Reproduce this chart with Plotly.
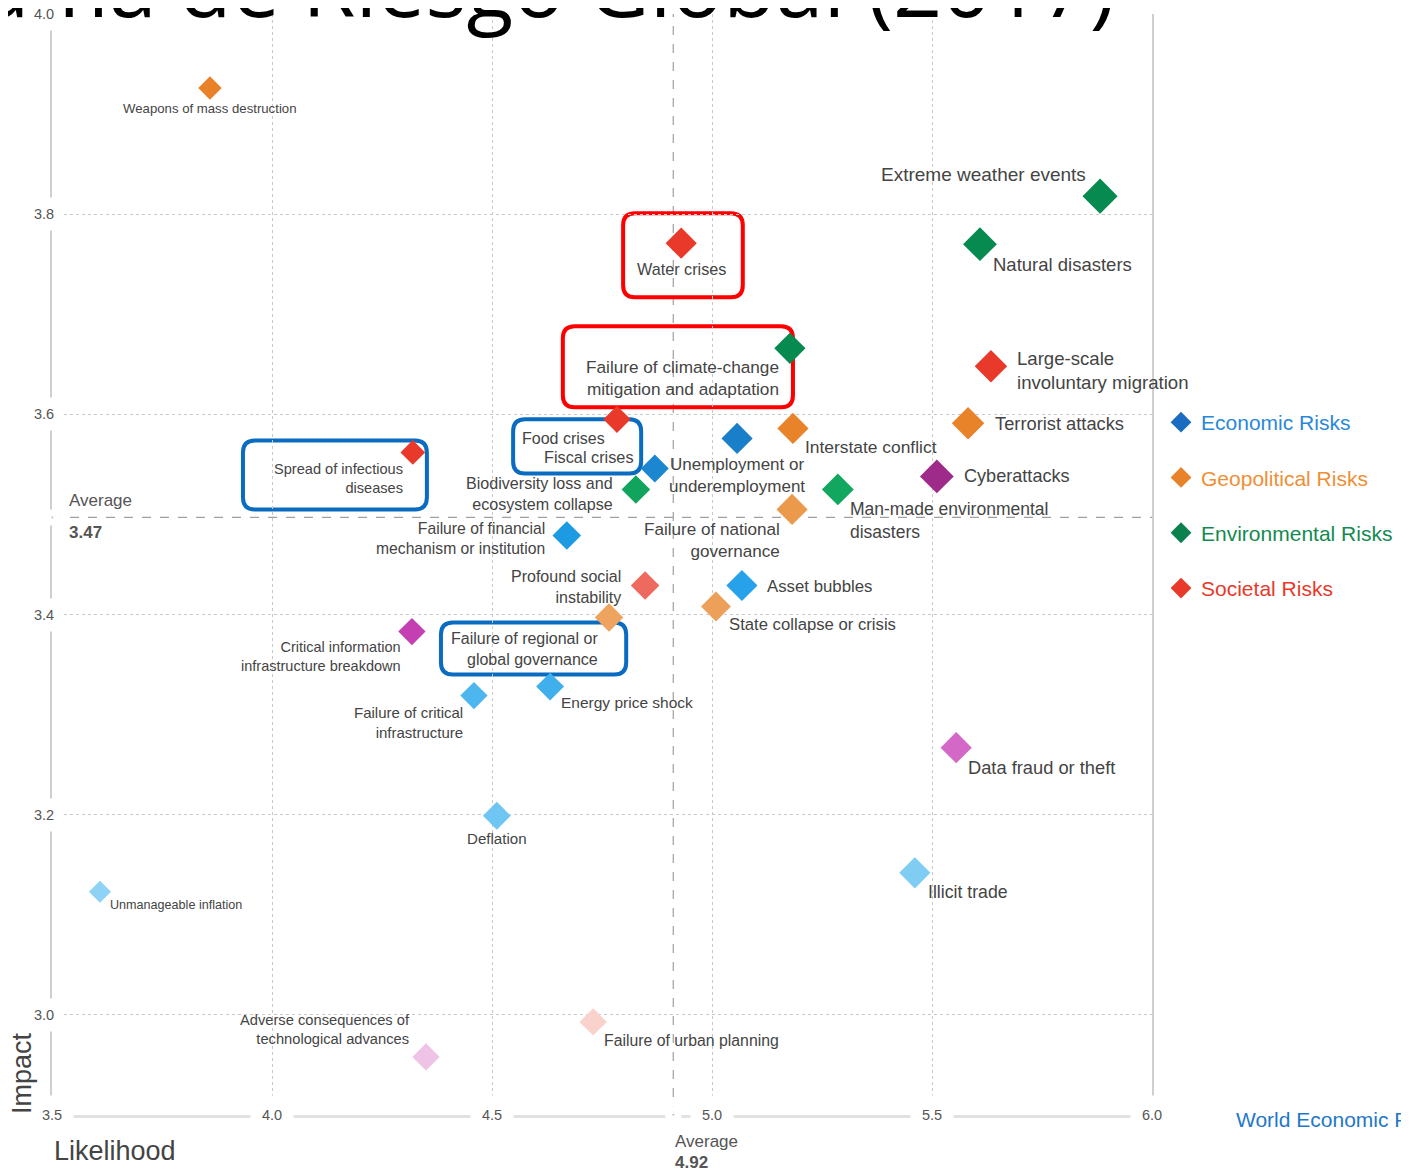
import plotly.graph_objects as go

risks = [
    "Weapons of mass destruction",
    "Extreme weather events",
    "Natural disasters",
    "Water crises",
    "Failure of climate-change<br>mitigation and adaptation",
    "Large-scale<br>involuntary migration",
    "Terrorist attacks",
    "Interstate conflict",
    "Food crises",
    "Fiscal crises",
    "Unemployment or<br>underemployment",
    "Biodiversity loss and<br>ecosystem collapse",
    "Spread of infectious<br>diseases",
    "Cyberattacks",
    "Man-made environmental<br>disasters",
    "Failure of national<br>governance",
    "Failure of financial<br>mechanism or institution",
    "Profound social<br>instability",
    "Asset bubbles",
    "State collapse or crisis",
    "Failure of regional or<br>global governance",
    "Critical information<br>infrastructure breakdown",
    "Energy price shock",
    "Failure of critical<br>infrastructure",
    "Data fraud or theft",
    "Deflation",
    "Illicit trade",
    "Unmanageable inflation",
    "Failure of urban planning",
    "Adverse consequences of<br>technological advances",
]
likelihood = [3.859, 5.882, 5.609, 4.930, 5.177, 5.634, 5.582, 5.184, 4.784, 4.870,
              5.057, 4.827, 4.320, 5.511, 5.286, 5.182, 4.670, 4.848, 5.068, 5.009,
              4.766, 4.318, 4.632, 4.459, 5.555, 4.511, 5.461, 3.609, 4.730, 4.350]
impact = [3.926, 3.818, 3.770, 3.771, 3.666, 3.648, 3.591, 3.586, 3.595, 3.546,
          3.576, 3.525, 3.562, 3.538, 3.525, 3.505, 3.479, 3.429, 3.429, 3.408,
          3.397, 3.383, 3.328, 3.319, 3.267, 3.199, 3.142, 3.123, 2.993, 2.958]
category = ["geo", "env", "env", "soc", "env", "soc", "geo", "geo", "soc", "eco",
            "eco", "env", "soc", "tech", "env", "geo", "eco", "soc", "eco", "geo",
            "geo", "tech", "eco", "eco", "tech", "eco", "eco", "eco", "soc", "tech"]

avg_likelihood = 4.92
avg_impact = 3.47
x_ticks = [3.5, 4.0, 4.5, 5.0, 5.5, 6.0]
y_ticks = [3.0, 3.2, 3.4, 3.6, 3.8, 4.0]
legend_names = ["Economic Risks", "Geopolitical Risks", "Environmental Risks", "Societal Risks"]

# ---- styling --------------------------------------------------------------
marker_colors = ["#e88129", "#078a50", "#078a50", "#e8392a", "#078a50", "#e8392a",
                 "#e8832a", "#e8832a", "#e8392a", "#1a87d0", "#1a7fc9", "#10a45c",
                 "#e8392a", "#9e2a8a", "#12a75f", "#eb9a4b", "#1c9ae2", "#ef6a5e",
                 "#27a2ea", "#eda05a", "#eea45f", "#c43fb2", "#3fb0ec", "#4db6ee",
                 "#d468c6", "#70c6f2", "#80cdf4", "#8ed2f5", "#f9d2cc", "#efc3e6"]
marker_sizes = [18, 27, 26, 24, 24, 25, 25, 24, 21, 21.5, 24, 22, 19, 26, 24.5,
                24, 22, 22, 24, 23, 22, 21, 21.5, 21, 24, 21.5, 24, 17, 21, 21]
# (anchor, dx px, dy px downwards, font size)
label_style = [
    ("center", 0, 20, 13.2), ("right", -12, -22, 19), ("left", 11, 20, 18.5),
    ("center", 0, 26, 16.2), ("right", -9, 30, 17.2), ("left", 24, 4, 18.6),
    ("left", 25, 0, 18.3), ("left", 10, 19, 17.4), ("right", -10, 19, 16),
    ("right", -19, -11, 16.3), ("center", 0, 37, 17), ("right", -21, 4, 16.1),
    ("right", -8, 26, 14.6), ("left", 25, 0, 18.1), ("left", 10, 31, 17.5),
    ("right", -10, 31, 17.1), ("right", -20, 3, 15.7), ("right", -22, 1, 16),
    ("left", 23, 1, 16.8), ("left", 11, 18, 16.7), ("right", -9, 31, 16),
    ("right", -9, 25, 14.5), ("left", 9, 16, 15.5), ("right", -9, 27, 15),
    ("left", 10, 20, 18.3), ("center", 0, 23, 15.1), ("left", 11, 19, 17.7),
    ("left", 8, 13, 12.6), ("left", 9, 19, 15.8), ("right", -14, -27, 14.7),
]
legend_marker_colors = ["#1a6cc0", "#e8832a", "#0c8150", "#e8392a"]
legend_text_colors = ["#2a88d8", "#ef8f35", "#138a50", "#e8392a"]

# highlight boxes around some labels: (x0, x1, y_top, y_bottom, colour)
boxes = [
    (4.798, 5.070, 3.801, 3.717, "#ff0000"),
    (4.661, 5.184, 3.688, 3.607, "#ff0000"),
    (4.548, 4.839, 3.595, 3.541, "#0a6cc0"),
    (3.934, 4.352, 3.574, 3.505, "#0a6cc0"),
    (4.384, 4.805, 3.392, 3.340, "#0a6cc0"),
]

LABEL_FONT = "Liberation Sans, Arial, sans-serif"
TEXT_GREY = "#444444"

fig = go.Figure()

fig.add_trace(
    go.Scatter(
        x=likelihood,
        y=impact,
        mode="markers",
        marker=dict(symbol="diamond", size=marker_sizes, color=marker_colors,
                    opacity=1, line=dict(width=0)),
        text=[r.replace("<br>", " ") for r in risks],
        hovertemplate="%{text}<br>Likelihood %{x}<br>Impact %{y}<extra></extra>",
        showlegend=False,
        cliponaxis=False,
    )
)

# average markers (position as drawn in the source picture)
avg_x_drawn = 4.912
avg_y_drawn = 3.497
fig.add_trace(
    go.Scatter(
        x=[3.5, avg_x_drawn],
        y=[avg_y_drawn, 2.9],
        mode="markers",
        marker=dict(symbol=["triangle-right", "triangle-up"], size=11, color="#a8a8a8",
                    opacity=1, line=dict(width=5, color="white")),
        hoverinfo="skip",
        showlegend=False,
        cliponaxis=False,
    )
)

for i, name in enumerate(legend_names):
    fig.add_trace(
        go.Scatter(
            x=[None],
            y=[None],
            mode="markers",
            name=f"<span style='color:{legend_text_colors[i]}'>{name}</span>",
            legendgroup=name,
            marker=dict(symbol="diamond", size=17, color=legend_marker_colors[i]),
        )
    )

fig.add_vline(x=avg_x_drawn, line=dict(color="#a0a0a0", width=1.2, dash="dash"), layer="below")
fig.add_hline(y=avg_y_drawn, line=dict(color="#a0a0a0", width=1.2, dash="dash"), layer="below")

for x0, x1, yt, yb, col in boxes:
    rx, ry = 0.027, 0.012
    path = (
        f"M {x0 + rx},{yt} L {x1 - rx},{yt} Q {x1},{yt} {x1},{yt - ry} "
        f"L {x1},{yb + ry} Q {x1},{yb} {x1 - rx},{yb} L {x0 + rx},{yb} "
        f"Q {x0},{yb} {x0},{yb + ry} L {x0},{yt - ry} Q {x0},{yt} {x0 + rx},{yt} Z"
    )
    fig.add_shape(type="path", path=path, xref="x", yref="y",
                  line=dict(color=col, width=4), layer="below")

# tick labels sitting on the axis lines
for v in x_ticks:
    fig.add_annotation(x=v, y=2.9, xref="x", yref="y", text=f"{v:.1f}", showarrow=False,
                       font=dict(family=LABEL_FONT, size=14.5, color="#555555"),
                       bgcolor="white", borderpad=11, xanchor="center", yanchor="middle")
for v in y_ticks:
    fig.add_annotation(x=3.5, y=v, xref="x", yref="y", text=f"{v:.1f}", showarrow=False,
                       font=dict(family=LABEL_FONT, size=14.5, color="#555555"),
                       bgcolor="white", borderpad=8, xanchor="center", yanchor="middle",
                       xshift=-8)

# point labels
for i, name in enumerate(risks):
    anchor, dx, dy, fs = label_style[i]
    fig.add_annotation(
        x=likelihood[i], y=impact[i], xref="x", yref="y", text=name, showarrow=False,
        xanchor=anchor, yanchor="middle", align=anchor, xshift=dx, yshift=-dy,
        font=dict(family=LABEL_FONT, size=fs, color=TEXT_GREY),
    )

# average labels
fig.add_annotation(x=3.5, y=avg_y_drawn, xref="x", yref="y", text="Average", showarrow=False,
                   xanchor="left", yanchor="middle", xshift=15, yshift=17,
                   font=dict(family=LABEL_FONT, size=17, color="#555555"))
fig.add_annotation(x=3.5, y=avg_y_drawn, xref="x", yref="y", text=f"<b>{avg_impact:.2f}</b>",
                   showarrow=False, xanchor="left", yanchor="middle", xshift=15, yshift=-15,
                   font=dict(family=LABEL_FONT, size=17, color="#555555"))
fig.add_annotation(x=avg_x_drawn, y=2.9, xref="x", yref="y", text="Average", showarrow=False,
                   xanchor="left", yanchor="middle", xshift=0, yshift=-26,
                   font=dict(family=LABEL_FONT, size=17, color="#555555"))
fig.add_annotation(x=avg_x_drawn, y=2.9, xref="x", yref="y", text=f"<b>{avg_likelihood:.2f}</b>",
                   showarrow=False, xanchor="left", yanchor="middle", xshift=0, yshift=-47,
                   font=dict(family=LABEL_FONT, size=17, color="#555555"))

# axis titles and source
fig.add_annotation(x=0, y=0, xref="paper", yref="paper", text="Impact", showarrow=False,
                   textangle=-90, xanchor="center", yanchor="middle", xshift=-30, yshift=42,
                   font=dict(family=LABEL_FONT, size=27, color=TEXT_GREY))
fig.add_annotation(x=0, y=0, xref="paper", yref="paper", text="Likelihood", showarrow=False,
                   xanchor="left", yanchor="middle", xshift=0, yshift=-36,
                   font=dict(family=LABEL_FONT, size=27, color=TEXT_GREY))
fig.add_annotation(x=1, y=0, xref="paper", yref="paper", text="World Economic Forum",
                   showarrow=False, xanchor="left", yanchor="middle", xshift=82, yshift=-4,
                   font=dict(family=LABEL_FONT, size=21, color="#1e78c8"))

fig.update_xaxes(
    range=[3.5, 6.0],
    tickvals=[4.0, 4.5, 5.0, 5.5],
    showticklabels=False,
    ticks="",
    showgrid=True,
    gridcolor="#c8c8c8",
    griddash="dot",
    gridwidth=1,
    zeroline=False,
    showline=True,
    linecolor="#e2e2e2",
    linewidth=3,
    layer="below traces",
)
fig.update_yaxes(
    range=[2.9, 4.0],
    tickvals=y_ticks,
    showticklabels=False,
    ticks="",
    showgrid=True,
    gridcolor="#c8c8c8",
    griddash="dot",
    gridwidth=1,
    zeroline=False,
    showline=True,
    mirror=True,
    linecolor="#cfcfcf",
    linewidth=1.5,
    layer="below traces",
)

fig.update_layout(
    width=1409,
    height=1174,
    autosize=False,
    margin=dict(l=44, r=265, t=6, b=67),
    plot_bgcolor="white",
    paper_bgcolor="white",
    title=dict(
        text="Panorama de Riesgo Global (2017)",
        font=dict(family="Open Sans", size=86, color="black"),
        xref="container",
        x=1107 / 1409,
        xanchor="right",
        yref="container",
        y=0.9925,
        yanchor="bottom",
    ),
    legend=dict(
        x=1.0082,
        y=0.6476,
        xanchor="left",
        yanchor="top",
        font=dict(family=LABEL_FONT, size=21),
        tracegroupgap=25,
        bgcolor="rgba(0,0,0,0)",
        itemsizing="trace",
    ),
    showlegend=True,
)

fig.write_html("out.html")
